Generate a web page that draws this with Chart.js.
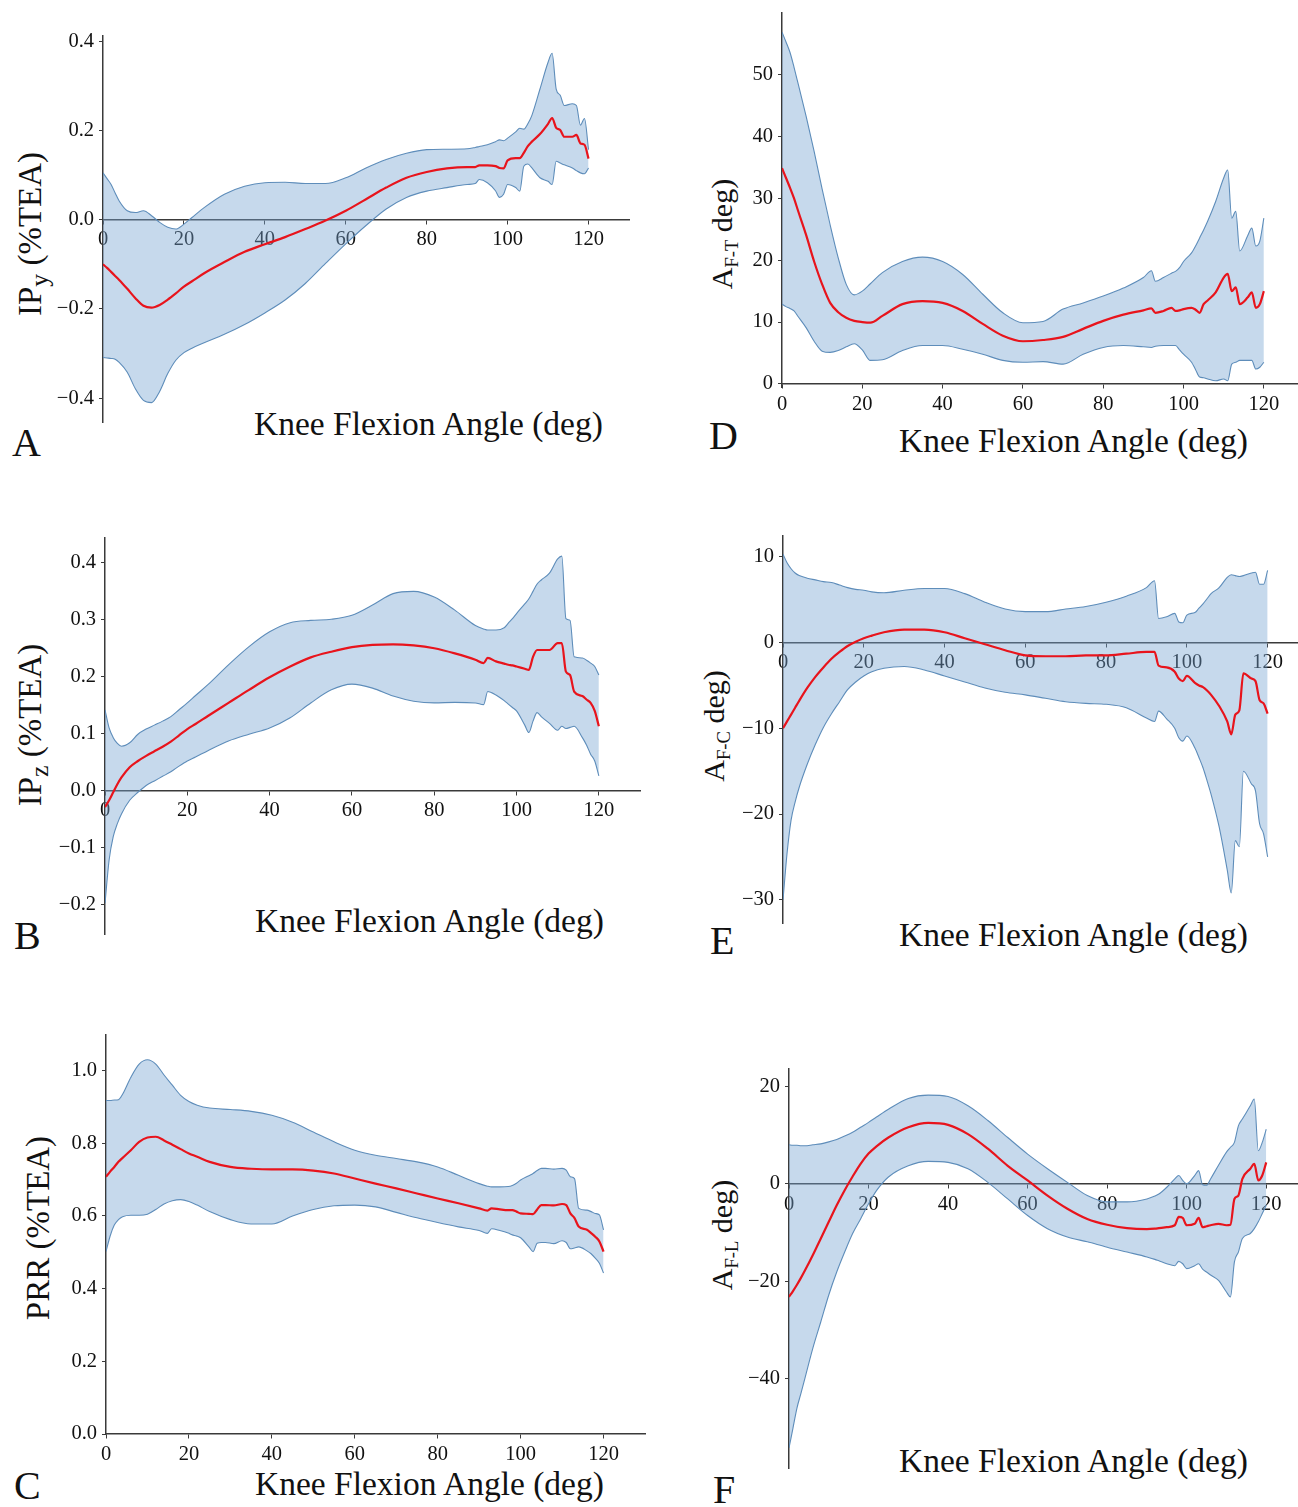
<!DOCTYPE html>
<html>
<head>
<meta charset="utf-8">
<title>Knee flexion kinematics</title>
<script src="https://cdn.jsdelivr.net/npm/chart.js@4.4.0/dist/chart.umd.min.js"></script>
<style>
  html, body { margin: 0; padding: 0; background: #fff; overflow: hidden; }
  body { width: 1298px; height: 1507px; position: relative; font-family: "Liberation Serif", "Times New Roman", serif; color: #111; }
  .box { position: absolute; }
  .box canvas { display: block; }
  .xt { position: absolute; font-size: 33.5px; line-height: 1; white-space: nowrap; }
  .yt { position: absolute; font-size: 33px; line-height: 1; white-space: nowrap; transform: translate(-50%, -50%) rotate(-90deg); }
  .yt sub { font-size: 0.78em; vertical-align: -0.28em; line-height: 0; }
  .yt.small { font-size: 30px; }
  .yt.small sub { font-size: 0.62em; vertical-align: -0.3em; }
  .lt { position: absolute; font-size: 40px; line-height: 1; }
</style>
</head>
<body>

<div class="xt" style="left:254px;top:407px">Knee Flexion Angle (deg)</div>
<div class="xt" style="left:899px;top:424px">Knee Flexion Angle (deg)</div>
<div class="xt" style="left:255px;top:904px">Knee Flexion Angle (deg)</div>
<div class="xt" style="left:899px;top:918px">Knee Flexion Angle (deg)</div>
<div class="xt" style="left:255px;top:1467px">Knee Flexion Angle (deg)</div>
<div class="xt" style="left:899px;top:1444px">Knee Flexion Angle (deg)</div>

<div class="yt" style="left:30px;top:234px">IP<sub>y</sub> (%TEA)</div>
<div class="yt" style="left:30px;top:725px">IP<sub>z</sub> (%TEA)</div>
<div class="yt" style="left:38px;top:1228px">PRR (%TEA)</div>
<div class="yt small" style="left:722px;top:234px">A<sub>F-T</sub> deg)</div>
<div class="yt small" style="left:714px;top:726px">A<sub>F-C</sub> deg)</div>
<div class="yt small" style="left:722px;top:1235px">A<sub>F-L</sub> deg)</div>

<div class="lt" style="left:12px;top:423px">A</div>
<div class="lt" style="left:14px;top:916px">B</div>
<div class="lt" style="left:14px;top:1466px">C</div>
<div class="lt" style="left:709px;top:416px">D</div>
<div class="lt" style="left:710px;top:921px">E</div>
<div class="lt" style="left:713px;top:1470px">F</div>

<script>
// knee flexion angle samples (deg), shared by every panel
var angles = [0, 1, 2, 3, 4,
  6, 8, 10, 12, 14, 16, 18, 20, 22,
  25, 30, 35, 40, 45, 50, 55, 60, 65, 70, 75, 80, 85, 90,
  92, 93, 95, 97, 98, 99, 100,
  102, 103, 104, 105, 106, 108,
  110, 111, 112, 113, 114,
  116, 117, 118, 119, 120];

var xTicks = [0, 20, 40, 60, 80, 100, 120];
var xTickLabels = ['0', '20', '40', '60', '80', '100', '120'];

// A - IPy
var ipyMean = [-0.100, -0.108, -0.117, -0.126, -0.135,
  -0.155, -0.176, -0.193, -0.197, -0.191, -0.179, -0.165, -0.150, -0.138,
  -0.120, -0.095, -0.072, -0.055, -0.039, -0.021, -0.002, 0.020, 0.046, 0.072, 0.094, 0.107, 0.115, 0.118,
  0.118, 0.122, 0.122, 0.120, 0.116, 0.115, 0.133,
  0.138, 0.138, 0.150, 0.165, 0.175, 0.192,
  0.215, 0.228, 0.206, 0.201, 0.186,
  0.186, 0.190, 0.171, 0.168, 0.137];
var ipyUpper = [0.105, 0.092, 0.079, 0.060, 0.042,
  0.020, 0.016, 0.020, 0.009, -0.006, -0.017, -0.021, -0.010, 0.005,
  0.027, 0.057, 0.075, 0.083, 0.084, 0.081, 0.081, 0.094, 0.116, 0.135, 0.149, 0.157, 0.158, 0.159,
  0.162, 0.164, 0.168, 0.175, 0.179, 0.177, 0.183,
  0.197, 0.205, 0.203, 0.215, 0.234, 0.293,
  0.353, 0.373, 0.293, 0.279, 0.256,
  0.260, 0.256, 0.212, 0.227, 0.157];
var ipyLower = [-0.309, -0.310, -0.311, -0.313, -0.320,
  -0.342, -0.379, -0.405, -0.410, -0.385, -0.345, -0.315, -0.298, -0.288,
  -0.276, -0.257, -0.235, -0.209, -0.180, -0.143, -0.098, -0.054, -0.013, 0.024, 0.050, 0.064, 0.072, 0.079,
  0.081, 0.090, 0.083, 0.065, 0.050, 0.057, 0.079,
  0.072, 0.064, 0.120, 0.125, 0.116, 0.094,
  0.086, 0.079, 0.131, 0.127, 0.123,
  0.116, 0.110, 0.105, 0.103, 0.116];
var ipyTicks = [-0.4, -0.2, 0, 0.2, 0.4];
var ipyTickLabels = ['\u22120.4', '\u22120.2', '0.0', '0.2', '0.4'];

// B - IPz
var ipzMean = [-0.029, -0.017, -0.003, 0.011, 0.023,
  0.041, 0.052, 0.061, 0.069, 0.077, 0.086, 0.097, 0.108, 0.117,
  0.131, 0.154, 0.177, 0.199, 0.218, 0.234, 0.244, 0.252, 0.256, 0.257, 0.255, 0.250, 0.241, 0.230,
  0.224, 0.233, 0.227, 0.223, 0.221, 0.220, 0.218,
  0.214, 0.212, 0.235, 0.247, 0.247, 0.247,
  0.259, 0.259, 0.209, 0.203, 0.174,
  0.166, 0.160, 0.154, 0.140, 0.113];
var ipzUpper = [0.142, 0.110, 0.093, 0.083, 0.078,
  0.084, 0.099, 0.108, 0.115, 0.122, 0.130, 0.142, 0.154, 0.167,
  0.186, 0.221, 0.253, 0.279, 0.295, 0.299, 0.301, 0.308, 0.326, 0.346, 0.350, 0.340, 0.317, 0.290,
  0.284, 0.282, 0.282, 0.286, 0.294, 0.302, 0.311,
  0.328, 0.337, 0.350, 0.363, 0.370, 0.382,
  0.407, 0.412, 0.302, 0.299, 0.235,
  0.233, 0.229, 0.224, 0.218, 0.203];
var ipzLower = [-0.198, -0.122, -0.081, -0.058, -0.041,
  -0.017, -0.003, 0.009, 0.017, 0.025, 0.033, 0.043, 0.052, 0.059,
  0.070, 0.087, 0.099, 0.110, 0.128, 0.154, 0.177, 0.187, 0.180, 0.166, 0.157, 0.154, 0.155, 0.154,
  0.151, 0.174, 0.168, 0.158, 0.152, 0.146, 0.140,
  0.115, 0.102, 0.122, 0.137, 0.130, 0.118,
  0.106, 0.113, 0.109, 0.111, 0.113,
  0.093, 0.080, 0.064, 0.052, 0.026];
var ipzTicks = [-0.2, -0.1, 0, 0.1, 0.2, 0.3, 0.4];
var ipzTickLabels = ['\u22120.2', '\u22120.1', '0.0', '0.1', '0.2', '0.3', '0.4'];

// C - PRR
var prrMean = [0.708, 0.722, 0.735, 0.749, 0.760,
  0.781, 0.804, 0.816, 0.818, 0.808, 0.796, 0.784, 0.772, 0.763,
  0.749, 0.735, 0.730, 0.728, 0.728, 0.725, 0.717, 0.703, 0.689, 0.676, 0.662, 0.648, 0.635, 0.621,
  0.615, 0.621, 0.618, 0.616, 0.616, 0.612, 0.607,
  0.606, 0.605, 0.618, 0.630, 0.630, 0.629,
  0.633, 0.630, 0.607, 0.594, 0.571,
  0.562, 0.553, 0.543, 0.530, 0.502];
var prrUpper = [0.918, 0.918, 0.919, 0.920, 0.935,
  0.982, 1.018, 1.030, 1.018, 0.988, 0.960, 0.932, 0.915, 0.905,
  0.897, 0.893, 0.888, 0.877, 0.858, 0.831, 0.804, 0.781, 0.767, 0.758, 0.749, 0.735, 0.712, 0.689,
  0.682, 0.680, 0.680, 0.681, 0.684, 0.690, 0.699,
  0.711, 0.717, 0.725, 0.731, 0.731, 0.729,
  0.731, 0.726, 0.708, 0.703, 0.621,
  0.616, 0.612, 0.607, 0.603, 0.562];
var prrLower = [0.502, 0.545, 0.575, 0.590, 0.598,
  0.602, 0.602, 0.605, 0.618, 0.633, 0.642, 0.645, 0.640, 0.630,
  0.612, 0.590, 0.578, 0.578, 0.600, 0.618, 0.628, 0.630, 0.625, 0.610, 0.595, 0.582, 0.570, 0.560,
  0.552, 0.565, 0.560, 0.553, 0.548, 0.545, 0.540,
  0.515, 0.502, 0.525, 0.527, 0.527, 0.524,
  0.532, 0.527, 0.510, 0.512, 0.515,
  0.504, 0.496, 0.484, 0.470, 0.443];
var prrTicks = [0, 0.2, 0.4, 0.6, 0.8, 1.0];
var prrTickLabels = ['0.0', '0.2', '0.4', '0.6', '0.8', '1.0'];

// D - AF-T
var aftMean = [34.9, 33.3, 31.7, 30.0, 28.0,
  24.1, 19.8, 16.1, 13.1, 11.6, 10.7, 10.2, 10.0, 9.9,
  11.0, 12.9, 13.4, 13.1, 11.8, 9.7, 7.8, 6.9, 7.1, 7.6, 8.9, 10.2, 11.2, 11.9,
  12.2, 11.5, 11.8, 12.3, 11.8, 11.9, 12.1,
  12.3, 12.0, 11.5, 12.9, 13.5, 14.8,
  17.2, 17.8, 15.0, 15.6, 12.9,
  14.0, 14.8, 12.3, 12.9, 15.0];
var aftUpper = [56.9, 55.3, 53.6, 51.2, 48.6,
  43.3, 37.6, 31.5, 25.7, 20.4, 16.1, 14.4, 15.0, 16.2,
  18.0, 19.8, 20.5, 19.8, 17.7, 14.5, 11.5, 9.9, 10.1, 12.1, 13.1, 14.2, 15.5, 17.2,
  18.3, 16.6, 17.2, 17.9, 18.2, 18.8, 19.8,
  21.2, 22.3, 23.6, 24.9, 26.3, 29.5,
  33.3, 34.6, 26.8, 27.9, 21.5,
  24.0, 25.2, 22.3, 23.1, 26.8];
var aftLower = [12.9, 12.5, 12.2, 11.8, 10.9,
  9.1, 6.9, 5.3, 5.1, 5.4, 6.0, 6.5, 5.5, 3.8,
  3.9, 5.4, 6.2, 6.2, 5.6, 4.8, 3.8, 3.5, 3.6, 3.2, 4.8, 5.9, 6.2, 6.0,
  5.9, 6.1, 6.2, 6.2, 6.2, 5.5, 4.8,
  3.5, 2.3, 1.1, 1.0, 0.8, 0.5,
  0.8, 0.5, 3.2, 3.5, 3.8,
  3.8, 3.8, 2.4, 2.7, 3.5];
var aftTicks = [0, 10, 20, 30, 40, 50];
var aftTickLabels = ['0', '10', '20', '30', '40', '50'];

// E - AF-C
var afcMean = [-10.0, -9.2, -8.4, -7.6, -6.8,
  -5.3, -4.0, -2.9, -1.9, -1.1, -0.4, 0.1, 0.5, 0.8,
  1.2, 1.5, 1.5, 1.2, 0.5, -0.2, -0.9, -1.5, -1.6, -1.6, -1.5, -1.5, -1.3, -1.1,
  -1.1, -2.7, -2.9, -3.4, -4.2, -4.5, -3.9,
  -4.7, -5.0, -5.2, -5.6, -6.1, -7.4,
  -9.2, -10.7, -8.4, -7.9, -3.6,
  -4.2, -4.5, -6.7, -7.1, -8.3];
var afcUpper = [10.3, 9.3, 8.6, 8.1, 7.8,
  7.5, 7.3, 7.1, 7.0, 6.7, 6.4, 6.2, 6.1, 5.9,
  5.8, 6.1, 6.3, 6.3, 5.7, 4.7, 3.9, 3.6, 3.6, 3.9, 4.2, 4.7, 5.4, 6.4,
  7.2, 2.8, 3.0, 3.4, 2.4, 2.3, 3.2,
  3.5, 4.0, 4.5, 5.1, 5.7, 6.4,
  7.6, 7.9, 7.8, 7.7, 7.8,
  8.1, 8.2, 6.8, 6.8, 8.4];
var afcLower = [-30.0, -24.6, -20.7, -18.6, -16.9,
  -14.2, -11.9, -9.9, -8.3, -6.9, -5.5, -4.6, -3.9, -3.4,
  -3.0, -2.8, -3.2, -3.9, -4.6, -5.3, -5.8, -6.1, -6.5, -6.9, -7.1, -7.2, -7.6, -8.8,
  -9.2, -8.0, -8.9, -10.0, -11.1, -11.5, -10.9,
  -12.3, -13.4, -14.6, -16.1, -17.7, -21.5,
  -26.5, -29.2, -23.1, -23.8, -15.0,
  -16.5, -17.3, -21.1, -22.3, -25.0];
var afcTicks = [-30, -20, -10, 0, 10];
var afcTickLabels = ['\u221230', '\u221220', '\u221210', '0', '10'];

// F - AF-L
var aflMean = [-23.2, -22.0, -20.7, -19.3, -17.8,
  -14.6, -11.2, -7.8, -4.4, -1.3, 1.5, 4.1, 6.2, 7.7,
  9.5, 11.6, 12.5, 12.1, 10.2, 7.2, 3.7, 0.7, -2.4, -5.1, -7.2, -8.4, -9.1, -9.3,
  -9.2, -9.1, -8.9, -8.5, -6.8, -7.0, -8.5,
  -8.2, -7.0, -8.9, -8.7, -8.5, -8.2,
  -8.5, -8.4, -3.1, -2.4, 1.0,
  3.1, 4.1, 0.7, 1.7, 4.4];
var aflUpper = [8.0, 7.9, 7.9, 7.8, 7.8,
  8.0, 8.2, 8.6, 9.1, 9.8, 10.6, 11.6, 12.6, 13.7,
  15.3, 17.5, 18.2, 17.9, 16.0, 13.0, 9.5, 6.1, 3.1, 0.3, -2.4, -3.7, -3.7, -3.1,
  -2.5, -2.1, -0.7, 1.0, 1.7, 0.7, 0.0,
  1.7, 2.7, -0.2, -0.3, 1.0, 3.8,
  6.5, 7.5, 8.5, 11.9, 13.3,
  16.0, 17.4, 6.8, 8.5, 11.2];
var aflLower = [-54.2, -50.1, -46.0, -43.0, -39.9,
  -33.7, -28.3, -22.8, -18.1, -14.0, -10.2, -7.2, -4.1, -1.4,
  1.4, 3.7, 4.6, 4.4, 3.1, 0.3, -3.1, -6.5, -9.2, -10.9, -11.9, -13.0, -14.0, -15.0,
  -15.5, -15.8, -16.4, -16.8, -15.9, -16.4, -17.4,
  -16.8, -16.4, -17.5, -18.1, -18.7, -19.8,
  -22.2, -23.2, -16.0, -14.0, -11.2,
  -10.2, -9.2, -7.8, -6.1, -4.4];
var aflTicks = [-40, -20, 0, 20];
var aflTickLabels = ['\u221240', '\u221220', '0', '20'];

// colours and fonts
var RED = '#e8141c';
var EDGE = '#5e8dba';
var BAND = 'rgba(120, 164, 210, 0.42)';
var AXIS = '#3a3a3a';
var TICKFONT = { family: '"Liberation Serif", "Times New Roman", serif', size: 20.5 };

// where each plot area sits on the page (px), and its value range
var panels = [
  { mean: ipyMean, upper: ipyUpper, lower: ipyLower, yTicks: ipyTicks, yLabels: ipyTickLabels,
    yMin: -0.4535, yMax: 0.4134, left: 103, right: 629, top: 33, bottom: 422 },
  { mean: ipzMean, upper: ipzUpper, lower: ipzLower, yTicks: ipzTicks, yLabels: ipzTickLabels,
    yMin: -0.252, yMax: 0.445, left: 105, right: 640, top: 535, bottom: 934 },
  { mean: prrMean, upper: prrUpper, lower: prrLower, yTicks: prrTicks, yLabels: prrTickLabels,
    yMin: 0, yMax: 1.1, left: 106, right: 645, top: 1032, bottom: 1434 },
  { mean: aftMean, upper: aftUpper, lower: aftLower, yTicks: aftTicks, yLabels: aftTickLabels,
    yMin: -0.5, yMax: 60.1, left: 782, right: 1304, top: 10, bottom: 387 },
  { mean: afcMean, upper: afcUpper, lower: afcLower, yTicks: afcTicks, yLabels: afcTickLabels,
    yMin: -32.7, yMax: 12.5, left: 783, right: 1308, top: 533, bottom: 923 },
  { mean: aflMean, upper: aflUpper, lower: aflLower, yTicks: aflTicks, yLabels: aflTickLabels,
    yMin: -58.3, yMax: 23.7, left: 789, right: 1306, top: 1066, bottom: 1468 }
];

var WY = 70, PT = 15, PB = 45, PR = 12;

function toPoints(vals) {
  return angles.map(function(a, i) { return { x: a, y: vals[i] }; });
}

panels.forEach(function(p) {
  var box = document.createElement('div');
  box.className = 'box';
  box.style.left = (p.left - WY) + 'px';
  box.style.top = (p.top - PT) + 'px';
  var cv = document.createElement('canvas');
  cv.width = p.right - p.left + WY + PR;
  cv.height = p.bottom - p.top + PT + PB;
  box.appendChild(cv);
  document.body.appendChild(box);

  new Chart(cv.getContext('2d'), {
    type: 'line',
    data: {
      datasets: [
        { data: toPoints(p.mean), borderColor: RED, borderWidth: 2.2, pointRadius: 0, fill: false },
        { data: toPoints(p.upper), borderColor: EDGE, borderWidth: 1.1, pointRadius: 0,
          fill: '+1', backgroundColor: BAND },
        { data: toPoints(p.lower), borderColor: EDGE, borderWidth: 1.1, pointRadius: 0, fill: false }
      ]
    },
    options: {
      responsive: false,
      animation: false,
      devicePixelRatio: 1,
      layout: { padding: { top: PT, right: PR, bottom: PB, left: 0 } },
      elements: { line: { cubicInterpolationMode: 'monotone' } },
      plugins: {
        legend: { display: false },
        tooltip: { enabled: false },
        filler: { drawTime: 'beforeDatasetsDraw' }
      },
      scales: {
        x: {
          type: 'linear',
          min: 0,
          max: 130,
          position: { y: 0 },
          grid: { display: true, drawOnChartArea: false, drawTicks: true, tickLength: 4, color: AXIS },
          border: { display: true, color: AXIS, width: 1.5 },
          ticks: {
            font: TICKFONT, color: '#111', padding: 4, autoSkip: false, maxRotation: 0,
            callback: function(v, i) { return xTickLabels[i]; }
          },
          afterBuildTicks: function(s) { s.ticks = xTicks.map(function(v) { return { value: v }; }); }
        },
        y: {
          type: 'linear',
          min: p.yMin,
          max: p.yMax,
          position: 'left',
          grid: { display: true, drawOnChartArea: false, drawTicks: true, tickLength: 4, color: AXIS },
          border: { display: true, color: AXIS, width: 1.5 },
          ticks: {
            font: TICKFONT, color: '#111', padding: 5, autoSkip: false,
            callback: function(v, i) { return p.yLabels[i]; }
          },
          afterBuildTicks: function(s) { s.ticks = p.yTicks.map(function(v) { return { value: v }; }); },
          afterFit: function(s) { s.width = WY; }
        }
      }
    }
  });
});
</script>
</body>
</html>
